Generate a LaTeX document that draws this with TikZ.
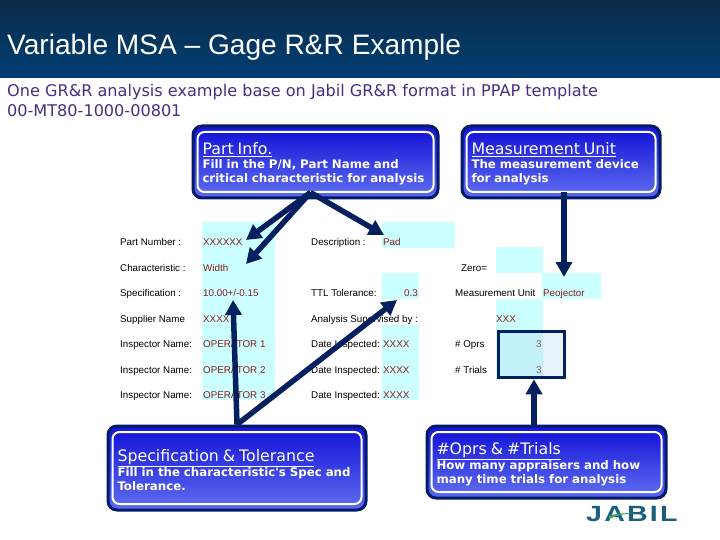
\documentclass[tikz,border=0pt]{standalone}
\usepackage{fontspec}
\setmainfont{Liberation Sans}
\newfontfamily\verdfont{DejaVu Sans}
\newfontfamily\logofont[LetterSpace=10,FakeStretch=1.3]{Liberation Sans}
\usetikzlibrary{arrows.meta, positioning, calc}
\definecolor{BannerTop}{HTML}{0B2B48}
\definecolor{BannerLow}{HTML}{003F74}
\definecolor{SubPurple}{HTML}{4A2C82}
\definecolor{DeepNavy}{HTML}{04205F}
\definecolor{RingNavy}{HTML}{031A68}
\definecolor{FillTop}{HTML}{1616D8}
\definecolor{FillLow}{HTML}{5A68EE}
\definecolor{CellCyan}{HTML}{CCFFFF}
\definecolor{ValRed}{HTML}{8C1A1A}
\definecolor{OverBlue}{HTML}{B5D8F5}
\definecolor{LogoTeal}{HTML}{1B5F80}
\definecolor{LogoGreen}{HTML}{3DAA5A}
\tikzset{
  lbl/.style={anchor=base west, inner sep=0pt, font=\fontsize{9.8}{10}\selectfont, text=black},
  val/.style={anchor=base west, inner sep=0pt, font=\fontsize{9.8}{10}\selectfont, text=ValRed},
  cell/.style={fill=CellCyan, draw=none},
  callout/.style={draw=RingNavy, line width=3pt, rounded corners=9pt, top color=FillTop, bottom color=FillLow, inner sep=0pt},
  calloutin/.style={draw=white, line width=2pt, rounded corners=7pt, top color=FillTop, bottom color=FillLow, inner xsep=5pt, inner ysep=0pt, align=left, text=white, font=\verdfont\bfseries\fontsize{11.8}{14}\selectfont},
  pointer/.style={-{Triangle[length=15pt, width=16pt]}, line width=5.5pt, draw=DeepNavy}
}
\newcommand{\boxhead}[1]{{\fontseries{m}\fontsize{15.8}{14}\selectfont\rule{0pt}{16pt}\underline{#1}}\\}
\begin{document}
\begin{tikzpicture}[x=1pt, y=-1pt]
\useasboundingbox (0,0) rectangle (720,540);
% banner
\fill[top color=BannerTop, bottom color=BannerLow] (0,0) rectangle (720,78);
\node[anchor=base west, inner sep=0pt, text=white, font=\fontsize{28.1}{30}\selectfont] (title) at (7,55) {Variable MSA -- Gage R\&R Example};
\node[anchor=base west, inner sep=0pt, text=SubPurple, align=left, font=\verdfont\fontsize{16.1}{20}\selectfont] (subtitle) at (7,117) {One GR\&R analysis example base on Jabil GR\&R format in PPAP template\\00-MT80-1000-00801};
% input cells
\fill[cell] (202,222) rectangle (275,400);
\fill[cell] (382,222) rectangle (455,248);
\fill[cell] (382,273) rectangle (419,299);
\fill[cell] (382,325) rectangle (419,400);
\fill[cell] (496,247) rectangle (543,273);
\fill[cell] (542,273) rectangle (601,299);
\fill[cell] (496,299) rectangle (543,379);
% first column
\node[lbl] (lblpart) at (120,245) {Part Number :};
\node[val] (valpart) at (203,245) {XXXXXX};
\node[lbl] (lblchar) at (120,271) {Characteristic :};
\node[val] (valchar) at (203,271) {Width};
\node[lbl] (lblspec) at (120,296) {Specification :};
\node[val] (valspec) at (203,296) {10.00+/-0.15};
\node[lbl] (lblsupp) at (120,322) {Supplier Name};
\node[val] (valsupp) at (203,322) {XXXX};
\node[lbl] (lblinsa) at (120,347) {Inspector Name:};
\node[val] (valinsa) at (203,347) {OPERATOR 1};
\node[lbl] (lblinsb) at (120,373) {Inspector Name:};
\node[val] (valinsb) at (203,373) {OPERATOR 2};
\node[lbl] (lblinsc) at (120,398) {Inspector Name:};
\node[val] (valinsc) at (203,398) {OPERATOR 3};
% second column
\node[lbl] (lbldesc) at (311,245) {Description :};
\node[val] (valdesc) at (383,245) {Pad};
\node[lbl] (lblttl) at (311,296) {TTL Tolerance:};
\node[val] (valttl) at (404,296) {0.3};
\node[lbl] (lblsup) at (311,322) {Analysis Supervised by :};
\node[lbl] (lbldata) at (311,347) {Date Inspected:};
\node[val] (valdata) at (383,347) {XXXX};
\node[lbl] (lbldatb) at (311,373) {Date Inspected:};
\node[val] (valdatb) at (383,373) {XXXX};
\node[lbl] (lbldatc) at (311,398) {Date Inspected:};
\node[val] (valdatc) at (383,398) {XXXX};
% third column
\node[lbl] (lblzero) at (461,271) {Zero=};
\node[lbl] (lblunit) at (455,296) {Measurement Unit};
\node[val] (valunit) at (543,296) {Peojector};
\node[val] (valsup) at (496,322) {XXX};
\node[lbl] (lblopr) at (455,347) {\# Oprs};
\node[val] (valopr) at (536,347) {3};
\node[lbl] (lbltri) at (455,373) {\# Trials};
\node[val] (valtri) at (536,373) {3};
\node[draw=DeepNavy, line width=3.5pt, fill=OverBlue, fill opacity=0.31, inner sep=0pt, minimum width=66pt, minimum height=46pt] (oprbox) at (531.5,354.5) {};
% callouts
\node[callout, minimum width=245pt, minimum height=72pt] (partinfo) at (315.5,162) {};
\node[calloutin, minimum width=233pt, minimum height=60pt, text width=226pt] (parttext) at (partinfo) {\boxhead{Part Info.}Fill in the P/N, Part Name and\\critical characteristic for analysis};
\node[callout, minimum width=198pt, minimum height=72pt] (unitinfo) at (561,162) {};
\node[calloutin, minimum width=186pt, minimum height=60pt, text width=179pt] (unittext) at (unitinfo) {\boxhead{Measurement Unit}The measurement device\\for analysis};
\node[callout, minimum width=258pt, minimum height=84pt] (specinfo) at (237,468) {};
\node[calloutin, minimum width=246pt, minimum height=72pt, text width=239pt] (spectext) at (specinfo) {\boxhead{Specification \& Tolerance}Fill in the characteristic's Spec and\\Tolerance.};
\node[callout, minimum width=239pt, minimum height=72pt] (oprinfo) at (546.5,462) {};
\node[calloutin, minimum width=227pt, minimum height=60pt, text width=220pt] (oprtext) at (oprinfo) {\boxhead{\#Oprs \& \#Trials}How many appraisers and how\\many time trials for analysis};
% logo
\node[anchor=base west, inner sep=0pt, text=LogoTeal, font=\logofont\bfseries\fontsize{22}{22}\selectfont] (logo) at (586,521) {JABIL};
\fill[LogoGreen] (609,516) .. controls (615,514) and (622,513) .. (634,513) .. controls (623,514) and (616,516) .. (609,519) -- cycle;
% pointers
\coordinate (tippart) at (246,240);
\coordinate (tipchar) at (246,264);
\coordinate (tipdesc) at (384,235);
\coordinate (tipunit) at (564,277);
\coordinate (tipspec) at (233,300);
\coordinate (tipttl) at (397,300);
\coordinate (oprfoot) at (534,425);
\draw[pointer] ([xshift=-5pt, yshift=7pt]partinfo.south) -- (tippart);
\draw[pointer] ([xshift=-5pt, yshift=7pt]partinfo.south) -- (tipchar);
\draw[pointer] ([xshift=-5pt, yshift=7pt]partinfo.south) -- (tipdesc);
\draw[pointer] ([xshift=3pt, yshift=7pt]unitinfo.south) -- (tipunit);
\draw[pointer] (specinfo.north) -- (tipspec);
\draw[pointer] (specinfo.north) -- (tipttl);
\draw[pointer] (oprfoot) -- ([xshift=2.5pt]oprbox.south);
\end{tikzpicture}
\end{document}
